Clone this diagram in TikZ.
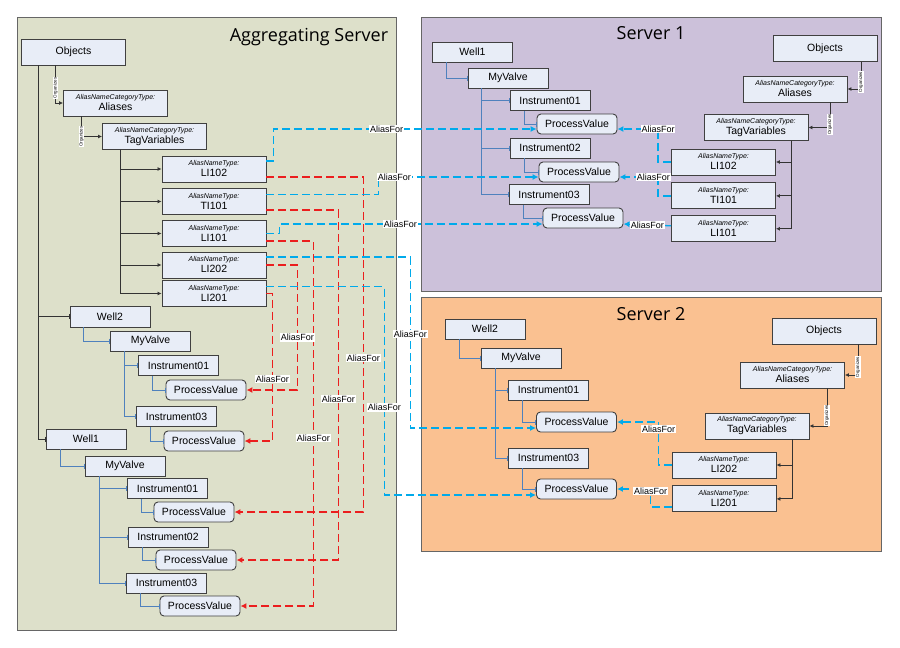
\documentclass[tikz,border=0pt]{standalone}
\usepackage{fontspec}
\setmainfont{Liberation Sans}
\newfontfamily\titlefont{Open Sans}
\usetikzlibrary{arrows.meta,positioning}
\definecolor{aggfill}{RGB}{221,224,202}
\definecolor{srvafill}{RGB}{204,193,218}
\definecolor{srvbfill}{RGB}{250,193,145}
\definecolor{boxfill}{RGB}{232,237,247}
\definecolor{treeblue}{RGB}{79,129,189}
\definecolor{aliasblue}{RGB}{0,170,235}
\definecolor{aliasred}{RGB}{235,30,30}
\newcommand{\tyf}{\fontsize{7}{7}\selectfont\itshape}

\begin{document}
\begin{tikzpicture}[
  x=1pt, y=-1pt,
  font=\fontsize{10.5}{11}\selectfont,
  panel/.style={draw=black!60, line width=.8pt},
  ttl/.style={font=\titlefont\fontsize{18}{18}\selectfont},
  box/.style={draw=black!75, fill=boxfill, line width=.9pt, minimum width=80pt, minimum height=20pt, inner sep=1pt},
  pv/.style={box, rounded corners=4pt},
  obox/.style={box, minimum width=104pt, minimum height=26pt},
  tbox/.style={box, minimum width=104pt, minimum height=26pt, align=center},
  blk/.style={draw=black!80, line width=.9pt, -{Latex[length=4pt,width=4pt]}},
  blkbar/.style={draw=black!80, line width=.9pt, -{Bar[width=5pt]}},
  tree/.style={draw=treeblue, line width=.9pt, -{Bar[width=5pt]}},
  afb/.style={draw=aliasblue, line width=1.3pt, dash pattern=on 8pt off 4pt, -{Latex[length=6pt,width=6pt]}},
  afr/.style={draw=aliasred, line width=1.3pt, dash pattern=on 8pt off 4pt, -{Latex[length=6pt,width=6pt]}},
  org/.style={rotate=90, fill=white, font=\fontsize{4.5}{4.5}\selectfont, inner sep=.5pt},
  lbl/.style={fill=white, font=\fontsize{9}{9}\selectfont, inner sep=.8pt}
]
\useasboundingbox (0,0) rectangle (900,648);
\draw[panel, fill=aggfill] (17,17) rectangle (396,630);
\draw[panel, fill=srvafill] (421,17) rectangle (881,291);
\draw[panel, fill=srvbfill] (421,297) rectangle (881,551);
\node[ttl] (aggttl) at (309,37) {Aggregating Server};
\node[ttl] (srvattl) at (651,33) {Server 1};
\node[ttl] (srvbttl) at (651,314) {Server 2};

\node[obox] (aobj) at (73.5,52) {Objects};
\node[tbox] (aali) at (115.5,103) {{\tyf AliasNameCategoryType:}\\Aliases};
\node[tbox] (atag) at (154.5,136.5) {{\tyf AliasNameCategoryType:}\\TagVariables};
\node[tbox] (a102) at (214,169) {{\tyf AliasNameType:}\\LI102};
\node[tbox] (at101) at (214,201.5) {{\tyf AliasNameType:}\\TI101};
\node[tbox] (a101) at (214,233.5) {{\tyf AliasNameType:}\\LI101};
\node[tbox] (a202) at (214,265) {{\tyf AliasNameType:}\\LI202};
\node[tbox] (a201) at (214,293.5) {{\tyf AliasNameType:}\\LI201};
\node[box, minimum height=21pt] (aw2) at (110,316.5) {Well2};
\node[box] (aw2mv) at (150.5,341) {MyValve};
\node[box] (aw2i1) at (178.5,365.5) {Instrument01};
\node[pv] (aw2pv1) at (206,390) {ProcessValue};
\node[box] (aw2i3) at (176.5,416.5) {Instrument03};
\node[pv] (aw2pv3) at (204,441) {ProcessValue};
\node[box] (aw1) at (86,439) {Well1};
\node[box] (aw1mv) at (125,466) {MyValve};
\node[box] (aw1i1) at (167.5,488.5) {Instrument01};
\node[pv] (aw1pv1) at (194,512) {ProcessValue};
\node[box] (aw1i2) at (168,537) {Instrument02};
\node[pv] (aw1pv2) at (196,560) {ProcessValue};
\node[box] (aw1i3) at (166.5,583) {Instrument03};
\node[pv] (aw1pv3) at (200,606) {ProcessValue};

\node[obox] (bobj) at (825,48.5) {Objects};
\node[tbox] (bali) at (795,89) {{\tyf AliasNameCategoryType:}\\Aliases};
\node[tbox] (btag) at (756,127.5) {{\tyf AliasNameCategoryType:}\\TagVariables};
\node[tbox] (b102) at (723.5,162) {{\tyf AliasNameType:}\\LI102};
\node[tbox, below=7pt of b102] (bt101) {{\tyf AliasNameType:}\\TI101};
\node[tbox, below=6pt of bt101] (b101) {{\tyf AliasNameType:}\\LI101};
\node[box] (bw1) at (472.5,52) {Well1};
\node[box] (bmv) at (508,78) {MyValve};
\node[box] (bi1) at (550,100.5) {Instrument01};
\node[pv] (bpv1) at (577,124) {ProcessValue};
\node[box] (bi2) at (550,148) {Instrument02};
\node[pv] (bpv2) at (579,172) {ProcessValue};
\node[box] (bi3) at (549,194.5) {Instrument03};
\node[pv] (bpv3) at (583,218) {ProcessValue};

\node[obox] (cobj) at (824,331) {Objects};
\node[tbox] (cali) at (792.5,375) {{\tyf AliasNameCategoryType:}\\Aliases};
\node[tbox] (ctag) at (757,426) {{\tyf AliasNameCategoryType:}\\TagVariables};
\node[tbox] (c202) at (724,465) {{\tyf AliasNameType:}\\LI202};
\node[tbox, below=7pt of c202] (c201) {{\tyf AliasNameType:}\\LI201};
\node[box] (cw2) at (485,329) {Well2};
\node[box] (cmv) at (521,358) {MyValve};
\node[box] (ci1) at (548.5,390) {Instrument01};
\node[pv] (cpv1) at (576.5,422) {ProcessValue};
\node[box] (ci3) at (548.5,458) {Instrument03};
\node[pv] (cpv3) at (576.5,489) {ProcessValue};

\draw[blk] ([xshift=-18pt]aobj.south) |- node[org, pos=.3] {Organizes} (aali.west);
\draw[blk] ([xshift=-34pt]aali.south) |- node[org, pos=.5] {Organizes} (atag.west);
\draw[blk] ([xshift=-34pt]atag.south) |- (a102.west);
\draw[blk] ([xshift=-34pt]atag.south) |- (at101.west);
\draw[blk] ([xshift=-34pt]atag.south) |- (a101.west);
\draw[blk] ([xshift=-34pt]atag.south) |- (a202.west);
\draw[blk] ([xshift=-34pt]atag.south) |- (a201.west);
\draw[blkbar] ([xshift=-35pt]aobj.south) |- (aw2.west);
\draw[blkbar] ([xshift=-35pt]aobj.south) |- (aw1.west);
\draw[tree] ([xshift=-27pt]aw2.south) |- (aw2mv.west);
\draw[tree] ([xshift=-26pt]aw2mv.south) |- (aw2i1.west);
\draw[tree] ([xshift=-26pt]aw2mv.south) |- (aw2i3.west);
\draw[tree] ([xshift=-26pt]aw2i1.south) |- (aw2pv1.west);
\draw[tree] ([xshift=-26pt]aw2i3.south) |- (aw2pv3.west);
\draw[tree] ([xshift=-26pt]aw1.south) |- (aw1mv.west);
\draw[tree] ([xshift=-26pt]aw1mv.south) |- (aw1i1.west);
\draw[tree] ([xshift=-26pt]aw1mv.south) |- (aw1i2.west);
\draw[tree] ([xshift=-26pt]aw1mv.south) |- (aw1i3.west);
\draw[tree] ([xshift=-26pt]aw1i1.south) |- (aw1pv1.west);
\draw[tree] ([xshift=-26pt]aw1i2.south) |- (aw1pv2.west);
\draw[tree] ([xshift=-26pt]aw1i3.south) |- (aw1pv3.west);

\draw[blk] ([xshift=36pt]bobj.south) |- node[org, pos=.375] {Organizes} (bali.east);
\draw[blk] ([xshift=35pt]bali.south) |- node[org, pos=.44] {Organizes} (btag.east);
\draw[blk] ([xshift=35pt]btag.south) |- (b102.east);
\draw[blk] ([xshift=35pt]btag.south) |- (bt101.east);
\draw[blk] ([xshift=35pt]btag.south) |- (b101.east);
\draw[tree] ([xshift=-26pt]bw1.south) |- (bmv.west);
\draw[tree] ([xshift=-27pt]bmv.south) |- (bi1.west);
\draw[tree] ([xshift=-27pt]bmv.south) |- (bi2.west);
\draw[tree] ([xshift=-27pt]bmv.south) |- (bi3.west);
\draw[tree] ([xshift=-26pt]bi1.south) |- (bpv1.west);
\draw[tree] ([xshift=-26pt]bi2.south) |- (bpv2.west);
\draw[tree] ([xshift=-26pt]bi3.south) |- (bpv3.west);

\draw[blk] ([xshift=34pt]cobj.south) |- node[org, pos=.37] {Organizes} (cali.east);
\draw[blk] ([xshift=34.5pt]cali.south) |- node[org, pos=.36] {Organizes} (ctag.east);
\draw[blk] ([xshift=35pt]ctag.south) |- (c202.east);
\draw[blk] ([xshift=35pt]ctag.south) |- (c201.east);
\draw[tree] ([xshift=-26pt]cw2.south) |- (cmv.west);
\draw[tree] ([xshift=-26pt]cmv.south) |- (ci1.west);
\draw[tree] ([xshift=-26pt]cmv.south) |- (ci3.west);
\draw[tree] ([xshift=-26pt]ci1.south) |- (cpv1.west);
\draw[tree] ([xshift=-26pt]ci3.south) |- (cpv3.west);

\draw[afr] ([yshift=-8pt]a102.east) -- ++(97,0) |- node[lbl, pos=.27] {AliasFor} (aw1pv1.east);
\draw[afr] ([yshift=-8.5pt]at101.east) -- ++(72,0) |- node[lbl, pos=.27] {AliasFor} (aw1pv2.east);
\draw[afr] ([yshift=-7.5pt]a101.east) -- ++(47,0) |- node[lbl, pos=.27] {AliasFor} (aw1pv3.east);
\draw[afr] (a202.east) -- ++(31,0) |- node[lbl, pos=.29] {AliasFor} (aw2pv1.east);
\draw[afr] (a201.east) -- ++(6,0) |- node[lbl, pos=.29] {AliasFor} (aw2pv3.east);

\draw[afb] ([yshift=8pt]a102.east) -- ++(7,0) |- node[lbl, pos=.715] {AliasFor} ([yshift=-5pt]bpv1.west);
\draw[afb] ([yshift=7pt]at101.east) -- ++(112,0) |- node[lbl, pos=.55] {AliasFor} ([yshift=-5pt]bpv2.west);
\draw[afb] (a101.east) -- ++(13,0) |- node[lbl, pos=.73] {AliasFor} ([yshift=-6pt]bpv3.west);
\draw[afb] ([yshift=8pt]a202.east) -- ++(144,0) |- node[lbl, pos=.225] {AliasFor} ([yshift=-6pt]cpv1.west);
\draw[afb] ([yshift=7pt]a201.east) -- ++(118,0) |- node[lbl, pos=.29] {AliasFor} ([yshift=-6pt]cpv3.west);

\draw[afb] (b102.west) -- ++(-13,0) |- node[lbl, pos=.5] {AliasFor} ([yshift=-5pt]bpv1.east);
\draw[afb] (bt101.west) -- ++(-13,0) |- node[lbl, pos=.56] {AliasFor} ([yshift=-5pt]bpv2.east);
\draw[afb] ([yshift=3pt]b101.west) -- node[lbl] {AliasFor} ([yshift=-6pt]bpv3.east);
\draw[afb] (c202.west) -- ++(-13,0) |- node[lbl, pos=.42] {AliasFor} (cpv1.east);
\draw[afb] ([yshift=-8pt]c201.west) -- ++(-21,0) |- node[lbl, pos=.45] {AliasFor} (cpv3.east);
\end{tikzpicture}
\end{document}
